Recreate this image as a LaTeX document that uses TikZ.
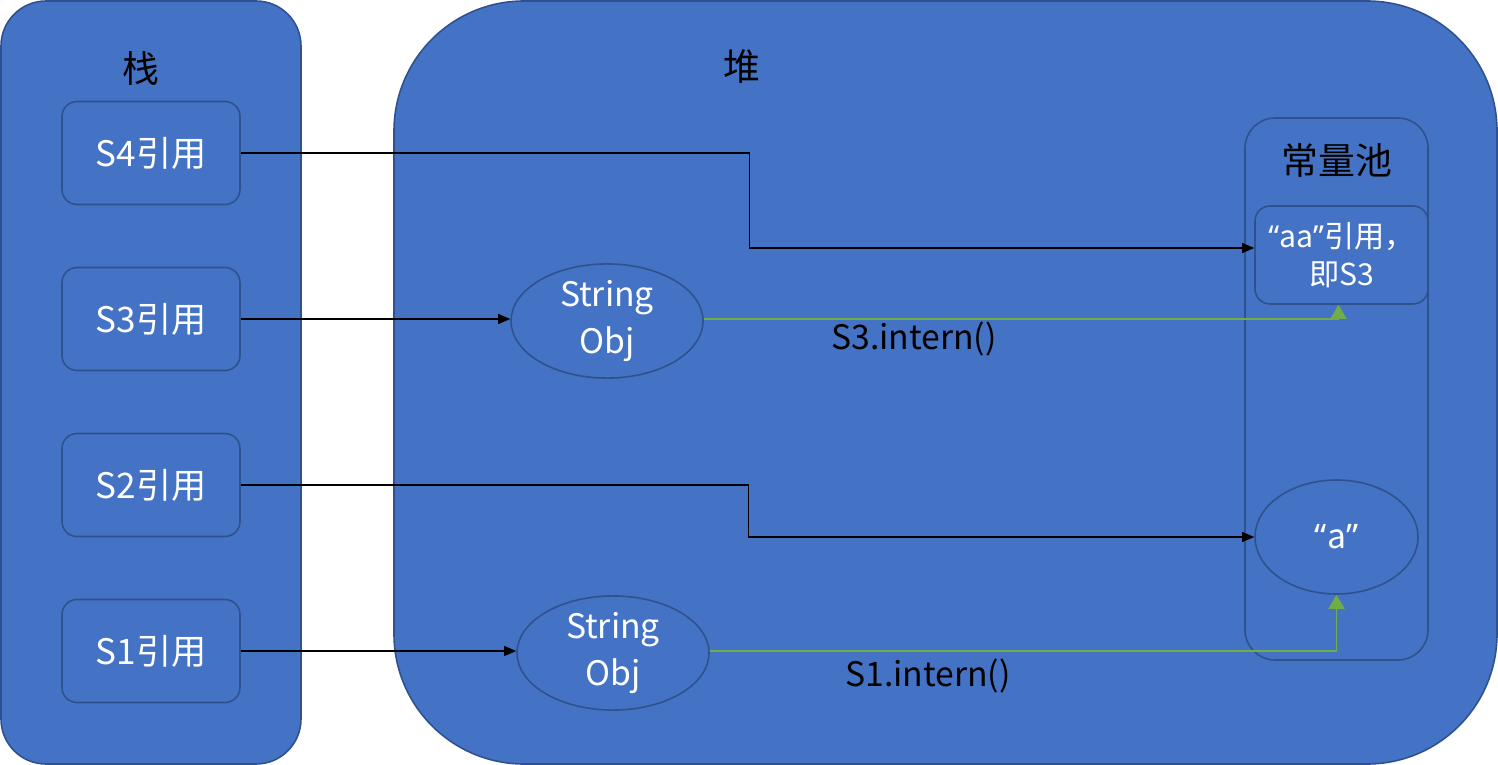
\documentclass[tikz,border=0pt]{standalone}
\usepackage{fontspec}
\setmainfont{Noto Sans CJK SC}
\newfontfamily\quotefont{Noto Sans}
\newcommand\openq{{\quotefont “}}
\newcommand\closeq{{\quotefont ”}}
\usepackage{tikz}
\usetikzlibrary{arrows.meta}
\usetikzlibrary{positioning}
\usetikzlibrary{shapes.geometric}
\definecolor{boxblue}{HTML}{4472C4}
\definecolor{lineblue}{HTML}{2F528F}
\definecolor{interngreen}{HTML}{70AD47}
\tikzset{
    area/.style = {rectangle, draw=lineblue, fill=boxblue, line width=0.45pt, inner sep=0pt},
    refnode/.style = {rectangle, rounded corners=0.15cm, draw=lineblue, fill=boxblue, line width=0.45pt, text=white, align=center, font=\fontsize{10}{12}\selectfont, minimum width=1.78cm, minimum height=1.03cm, inner sep=0pt},
    objnode/.style = {ellipse, draw=lineblue, fill=boxblue, line width=0.45pt, text=white, align=center, font=\fontsize{9.6}{13.2}\selectfont, minimum width=1.92cm, minimum height=1.14cm, inner sep=0pt},
    title/.style = {text=black, font=\fontsize{10.5}{12}\selectfont},
}

\begin{document}
\begin{tikzpicture}[
	thick,
	font=\fontsize{9.6}{11}\selectfont
]
\tikzset{
    edger/.style = {-{Triangle[length=1.2mm,width=1mm]}, line width=0.35pt, black},
    edgeg/.style = {-{Triangle[length=1.4mm,width=1.6mm]}, line width=0.45pt, interngreen},
}
\useasboundingbox (0,0) rectangle (14.98,-7.65);
\node[area, rounded corners=0.45cm, minimum width=3.0cm, minimum height=7.63cm] at (1.51,-3.825) (stack) {};
\node[area, rounded corners=1.3cm, minimum width=11.03cm, minimum height=7.63cm] at (9.455,-3.825) (heap) {};
\node[area, rounded corners=0.3cm, minimum width=1.83cm, minimum height=5.42cm] at (13.365,-3.89) (pool) {};
%
\node[title] at (1.41,-0.68) (stacktitle) {栈};
\node[title] at (7.42,-0.67) (heaptitle) {堆};
\node[title] at (13.37,-1.60) (pooltitle) {常量池};
%
\node[refnode] at (1.51,-1.53) (s4) {S4引用};
\node[refnode] at (1.51,-3.19) (s3) {S3引用};
\node[refnode] at (1.51,-4.85) (s2) {S2引用};
\node[refnode] at (1.51,-6.51) (s1) {S1引用};
%
\node[objnode] at (6.07,-3.21) (obj3) {String\\Obj};
\node[objnode] at (6.13,-6.53) (obj1) {String\\Obj};
%
\node[refnode, font=\fontsize{8.6}{10.7}\selectfont, minimum width=1.73cm, minimum height=0.98cm] at (13.415,-2.55) (aa) {\openq aa\closeq 引用，\\即S3};
\node[objnode, minimum width=1.63cm] at (13.365,-5.37) (a) {\openq a\closeq};
%
\draw[edger] (s4.east) -- ++(5.09,0) |- ([yshift=0.07cm]aa.west);
\draw[edger] (s3.east) -- (s3.east -| obj3.west);
\draw[edger] (s2.east) -- ++(5.08,0) |- (a.west);
\draw[edger] (s1.east) -- (s1.east -| obj1.west);
%
\draw[edgeg] (obj3.east |- s3.east) -| ([xshift=-0.03cm]aa.south);
\draw[edgeg] (obj1.east |- s1.east) -| (a.south);
%
\node at (9.14,-3.39) (intern3) {S3.intern()};
\node at (9.28,-6.76) (intern1) {S1.intern()};
\end{tikzpicture}
\end{document}
